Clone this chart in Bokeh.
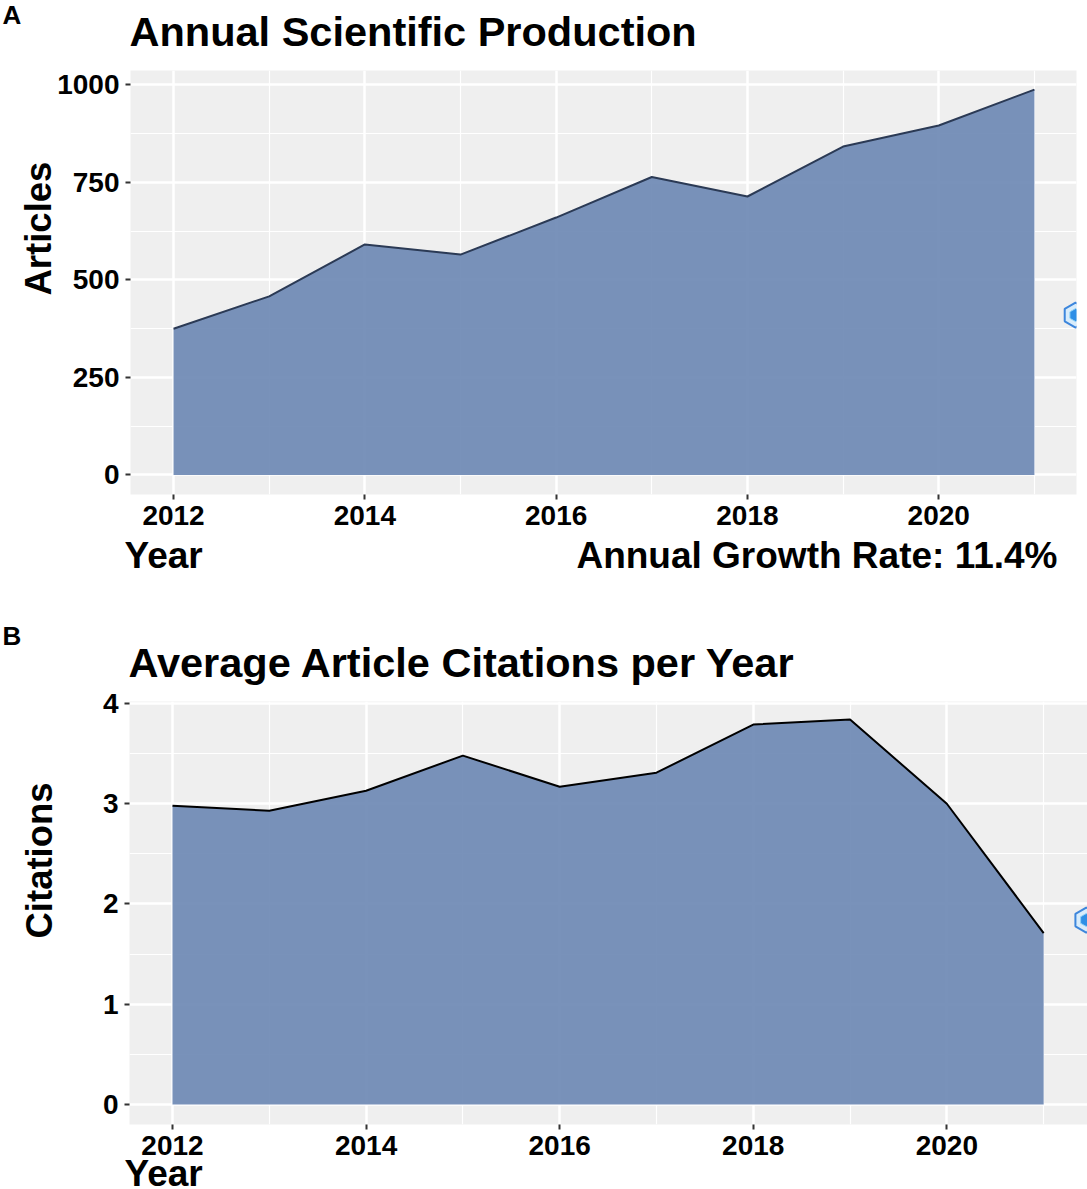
from math import pi

from bokeh.embed import file_html
from bokeh.layouts import column
from bokeh.models import FixedTicker, Title
from bokeh.plotting import figure
from bokeh.resources import INLINE

years = [2012, 2013, 2014, 2015, 2016, 2017, 2018, 2019, 2020, 2021]
articles = [375, 458, 591, 565, 660, 764, 714, 842, 896, 988]
citations = [2.98, 2.93, 3.13, 3.48, 3.17, 3.31, 3.79, 3.84, 3.00, 1.71]

year_ticks = [2012, 2014, 2016, 2018, 2020]
year_minor = [2013, 2015, 2017, 2019, 2021]
article_ticks = [0, 250, 500, 750, 1000]
article_minor = [125, 375, 625, 875]
citation_ticks = [0, 1, 2, 3, 4]
citation_minor = [0.5, 1.5, 2.5, 3.5]

FONT = "Liberation Sans"
PANEL = "#efefef"
FILL = "#6a86b3"
BLANK = "\u00a0"


def note(p, side, text, size, standoff, offset=0, align="left"):
    # labels outside the frame are titles stacked in the side panels,
    # a blank one works as a spacer
    p.add_layout(Title(text=text, text_font=FONT, text_font_style="bold", text_font_size=size,
                       text_color="black", standoff=standoff, offset=offset, align=align,
                       vertical_align="middle"), side)


def logo(p, x, y):
    # small stamp on the panel's right edge
    p.scatter([x], [y], marker="hex", size=25, angle=pi / 2, fill_color="#d8ecfb",
              line_color="#3d86dc", line_width=2)
    p.scatter([x], [y], marker="hex", size=13, angle=pi / 2, fill_color="#2f8fe6",
              line_color="#8fd0f5", line_width=1)


def panel(height, left, right, top, bottom, x_range, y_range, values, line_color, yt, ym):
    p = figure(width=1087, height=height, x_range=x_range, y_range=y_range,
               min_border_left=left, min_border_right=right,
               min_border_top=top, min_border_bottom=bottom, frame_align=False,
               output_backend="svg", toolbar_location=None,
               background_fill_color=PANEL, outline_line_color=None)

    p.xaxis.ticker = FixedTicker(ticks=year_ticks, minor_ticks=year_minor)
    p.yaxis.ticker = FixedTicker(ticks=yt, minor_ticks=ym)
    for axis in (p.xaxis[0], p.yaxis[0]):
        axis.axis_line_color = None
        axis.major_tick_in = 0
        axis.major_tick_out = 5
        axis.major_tick_line_color = "#333333"
        axis.major_tick_line_width = 2
        axis.minor_tick_line_color = None
        axis.major_label_text_font = FONT
        axis.major_label_text_font_style = "bold"
        axis.major_label_text_font_size = "28px"
        axis.major_label_text_color = "black"
        axis.major_label_standoff = 6

    for grid in (p.xgrid[0], p.ygrid[0]):
        grid.grid_line_color = "white"
        grid.grid_line_width = 2.5
        grid.minor_grid_line_color = "white"
        grid.minor_grid_line_width = 1.2

    p.varea(years, [0] * len(years), values, fill_color=FILL, fill_alpha=0.9)
    p.line(years, values, line_color=line_color, line_width=2)
    return p


a = panel(600, 130, 11, 70, 106, (2011.55, 2021.44), (-50, 1037), articles, "#2b3a55",
          article_ticks, article_minor)
logo(a, 2021.43, 410)
note(a, "above", BLANK, "26px", -6)
note(a, "above", "Annual Scientific Production", "41.5px", -23, offset=-1)
note(a, "above", "A", "26px", -24, offset=-128)
note(a, "left", "Articles", "36.5px", -10, offset=199)
note(a, "below", BLANK, "37px", -15)
note(a, "below", "Year", "37px", -46, offset=-6)
note(a, "below", "Annual Growth Rate: 11.4%", "37px", -46, align="right", offset=19)

b = panel(589, 129, 0, 101, 65, (2011.556, 2021.453), (-0.2, 4.02), citations, "#000000",
          citation_ticks, citation_minor)
logo(b, 2021.44, 1.84)
note(b, "above", BLANK, "26px", -6)
note(b, "above", "Average Article Citations per Year", "41.5px", -23, offset=-1)
note(b, "above", "B", "26px", -4, offset=-127)
note(b, "left", BLANK, "37px", -16)
note(b, "left", "Citations", "36.5px", 23, offset=186)
note(b, "below", BLANK, "37px", -27)
note(b, "below", "Year", "37px", -46, offset=-5)

page = column(a, b, spacing=0)
open("out.html", "w").write(file_html(page, INLINE))
